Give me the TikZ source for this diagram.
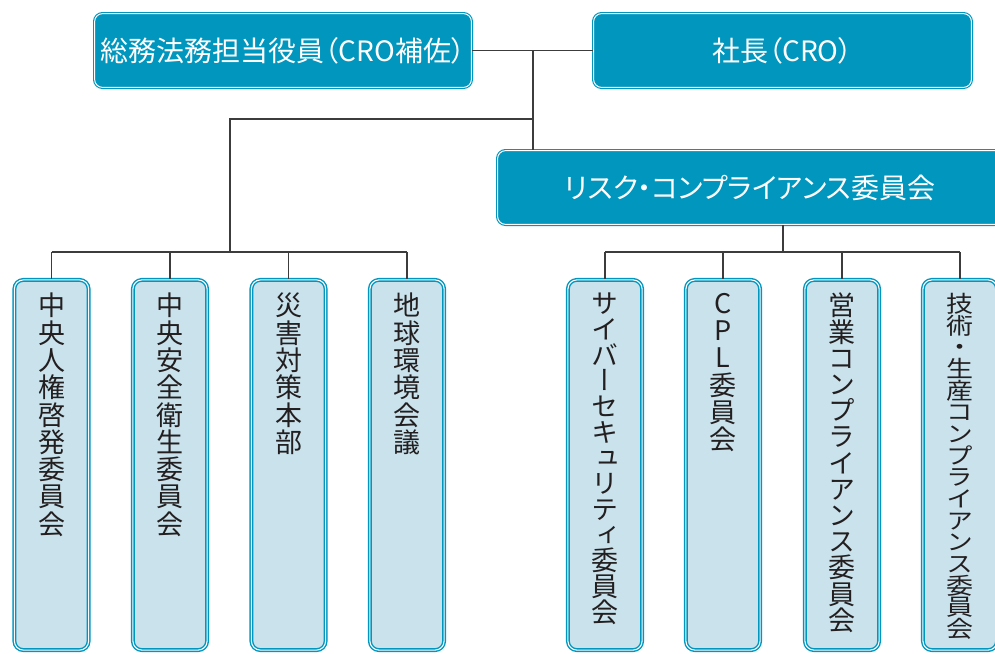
\documentclass[tikz,border=0pt]{standalone}
\usepackage{fontspec}
\usepackage{graphicx}
\setmainfont{Noto Sans CJK JP}
\newfontfamily\vjp[RawFeature=+vert]{Noto Sans CJK JP}
\newfontfamily\pjp[RawFeature=+palt]{Noto Sans CJK JP}
\definecolor{teal1}{RGB}{0,150,190}
\definecolor{lblue}{RGB}{201,226,236}
\definecolor{ink}{RGB}{35,31,32}
\definecolor{wirec}{RGB}{60,60,60}
% #1 vertical scale, #2 pitch, #3 rows separated by \cr
\newcommand\vstack[3]{\scalebox{1}[#1]{\vbox{\fontsize{27}{#2}\selectfont
  \lineskiplimit=-100pt\lineskip=0pt\halign{\hfil##\hfil\cr#3\crcr}}}}
\tikzset{
  topbox/.style={draw=teal1, double=white, double distance=1pt, line width=1.1pt,
    fill=teal1, rounded corners=8pt, text=white, inner sep=0pt,
    font=\pjp\fontsize{28}{30}\selectfont, minimum height=73.8pt},
  subbox/.style={draw=teal1, double=white, double distance=1.1pt, line width=1.4pt,
    fill=lblue, rounded corners=9pt, minimum width=74.2pt, minimum height=370.2pt, inner sep=0pt},
  wire/.style={draw=wirec, line width=1.2pt},
  vlabel/.style={anchor=north, text=ink, font=\vjp, inner sep=0pt}
}
\begin{document}
\begin{tikzpicture}[x=1pt,y=-1pt]
\useasboundingbox (0,0) rectangle (995,653);
\clip (0,0) rectangle (995,653);
% top level
\node[topbox, minimum width=376.8pt] (A) at (283,50.5) {総務法務担当役員（CRO補佐）};
\node[topbox, minimum width=377.8pt] (B) at (782.5,50.5) {社長（CRO）};
\node[topbox, minimum width=504.8pt] (R) at (750,187.5) {リスク・コンプライアンス委員会};
% sub boxes
\node[subbox] (s1) at (51.5,465) {};
\node[subbox] (s2) at (170,465) {};
\node[subbox] (s3) at (288.5,465) {};
\node[subbox] (s4) at (407,465) {};
\node[subbox] (s5) at (605,465) {};
\node[subbox] (s6) at (723,465) {};
\node[subbox] (s7) at (842,465) {};
\node[subbox] (s8) at (960,465) {};
% vertical labels
\node[vlabel] (t1) at (51.5,293) {\vstack{1}{27.3}{中\cr 央\cr 人\cr 権\cr 啓\cr 発\cr 委\cr 員\cr 会}};
\node[vlabel] (t2) at (170,293) {\vstack{1}{27.3}{中\cr 央\cr 安\cr 全\cr 衛\cr 生\cr 委\cr 員\cr 会}};
\node[vlabel] (t3) at (288.5,293) {\vstack{1}{27.3}{災\cr 害\cr 対\cr 策\cr 本\cr 部}};
\node[vlabel] (t4) at (407,293) {\vstack{1}{27.3}{地\cr 球\cr 環\cr 境\cr 会\cr 議}};
\node[vlabel] (t5) at (605,293) {\vstack{1}{25.7}{サ\cr イ\cr バ\cr ー\cr セ\cr キ\cr ュ\cr リ\cr テ\cr ィ\cr 委\cr 員\cr 会}};
\node[vlabel] (t6) at (723,293) {\vstack{1}{27.3}{C\cr P\cr L\cr 委\cr 員\cr 会}};
\node[vlabel] (t7) at (842,293) {\vstack{1}{26.2}{営\cr 業\cr コ\cr ン\cr プ\cr ラ\cr イ\cr ア\cr ン\cr ス\cr 委\cr 員\cr 会}};
\node[vlabel] (t8) at (960,293) {\vstack{0.85}{25.5}{技\cr 術\cr ・\cr 生\cr 産\cr コ\cr ン\cr プ\cr ラ\cr イ\cr ア\cr ン\cr ス\cr 委\cr 員\cr 会}};
% connectors
\coordinate (j1) at (533,50.5);
\coordinate (j2) at (533,119);
\coordinate (j3) at (230,119);
\coordinate (lb) at (230,252);
\coordinate (rb) at (783,252);
\draw[wire] (A.east) -- (B.west);
\draw[wire] (j1) -- (j1 |- R.north);
\draw[wire] (j2) -- (j3) -- (lb);
\draw[wire] (s1.north |- lb) -- (s4.north |- lb);
\foreach \s in {s1,s2,s3,s4} {\draw[wire] (\s.north |- lb) -- (\s.north);}
\draw[wire] (R.south -| rb) -- (rb);
\draw[wire] (s5.north |- rb) -- (s8.north |- rb);
\foreach \s in {s5,s6,s7,s8} {\draw[wire] (\s.north |- rb) -- (\s.north);}
\end{tikzpicture}
\end{document}
